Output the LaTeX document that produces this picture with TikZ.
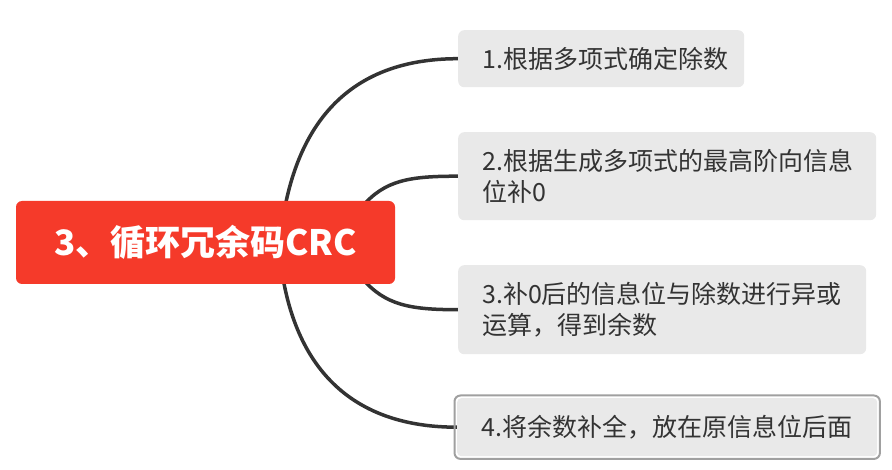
\documentclass[tikz,border=0pt]{standalone}
\usepackage{fontspec}
\setmainfont{Noto Sans CJK SC}
\usepackage{tikz}
\usetikzlibrary{positioning, backgrounds}

\definecolor{rootred}{RGB}{245,58,42}
\definecolor{boxgray}{RGB}{233,233,233}
\definecolor{textgray}{RGB}{51,51,51}
\definecolor{linegray}{RGB}{51,51,51}
\definecolor{selgray}{RGB}{160,160,160}

\begin{document}
\begin{tikzpicture}[x=1pt,y=-1pt,
  rootbox/.style={fill=rootred,rounded corners=6pt,text=white,minimum width=379pt,minimum height=83pt,inner sep=0pt,font=\fontsize{35}{40}\selectfont\bfseries},
  stepbox/.style={fill=boxgray,rounded corners=6pt,text=textgray,anchor=north west,align=left,inner xsep=24pt,inner ysep=0pt,font=\fontsize{25}{31}\selectfont},
  branch/.style={draw=linegray,line width=3.5pt}]
\useasboundingbox (0,0) rectangle (892,470);
\node[rootbox] (root) at (205.5,242.5) {3、循环冗余码CRC};
\node[stepbox,text width=238pt,minimum height=57pt] (b1) at (458,30) {1.根据多项式确定除数};
\node[stepbox,text width=370pt,minimum height=88pt] (b2) at (458,132) {2.根据生成多项式的最高阶向信息\\位补0};
\node[stepbox,text width=360pt,minimum height=89pt] (b3) at (458,265) {3.补0后的信息位与除数进行异或\\运算，得到余数};
\node[stepbox,text width=372pt,minimum height=58pt,rounded corners=4pt] (b4) at (457,398) {4.将余数补全，放在原信息位后面};
\draw[selgray,line width=2pt,rounded corners=6pt] ([shift={(-2.5pt,2.5pt)}]b4.north west) rectangle ([shift={(2.5pt,-2.5pt)}]b4.south east);
% branches
\begin{scope}[on background layer]
\draw[branch] ([xshift=79.5pt,yshift=-6pt]root.north) .. controls +(21,-106) and +(-88,0) .. (b1.west);
\draw[branch] ([xshift=156.5pt,yshift=-6pt]root.north) .. controls +(23,-27) and +(-48,0) .. (b2.west);
\draw[branch] ([xshift=156.5pt,yshift=6pt]root.south) .. controls +(23,27) and +(-48,0) .. (b3.west);
\draw[branch] ([xshift=77.5pt,yshift=6pt]root.south) .. controls +(18,102) and +(-94,0) .. (b4.west);
\end{scope}
\end{tikzpicture}
\end{document}
